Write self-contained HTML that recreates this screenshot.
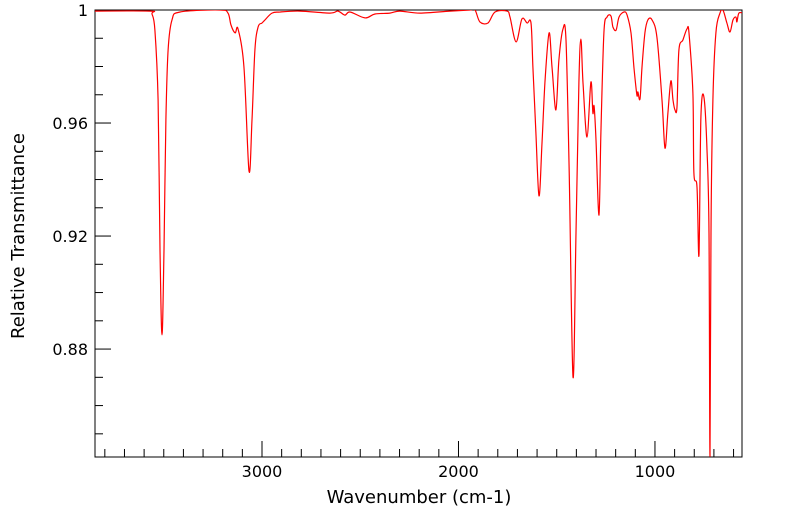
<!DOCTYPE html>
<html><head><meta charset="utf-8"><style>
html,body{margin:0;padding:0;background:#fff;width:799px;height:516px;overflow:hidden;}
svg{display:block;font-family:"DejaVu Sans","Liberation Sans",sans-serif;}
</style></head><body>
<svg id="chart" width="799" height="516" viewBox="0 0 799 516" xmlns="http://www.w3.org/2000/svg">
<defs><clipPath id="plotclip"><rect x="95" y="10" width="647" height="447"/></clipPath></defs>
<g id="axes"></g>
<g id="series" clip-path="url(#plotclip)"></g>
<text x="419" y="503" font-size="18" text-anchor="middle">Wavenumber (cm-1)</text>
<text x="24" y="236" font-size="18" text-anchor="middle" transform="rotate(-90 24 236)">Relative Transmittance</text>
</svg>
<script>
const wavenumbers = [3850,3570,3560,3545,3529,3519,3509,3499,3489,3478,3458,3417,3214,3173,3158,3137,3122,3092,3066,3051,3036,3020,3000,2985,2949,2908,2807,2654,2613,2578,2552,2476,2425,2349,2298,2196,2043,1942,1916,1891,1850,1814,1753,1738,1707,1677,1651,1631,1621,1606,1590,1575,1560,1539,1524,1504,1489,1468,1453,1437,1417,1402,1387,1377,1366,1346,1326,1316,1310,1300,1285,1275,1260,1244,1224,1214,1198,1183,1158,1142,1122,1107,1092,1087,1076,1066,1051,1036,1015,990,964,949,934,919,908,898,888,878,858,837,827,807,802,786,776,766,751,735,725,720,715,705,690,669,654,634,618,603,588,583,573,552];
const transmittance = [0.9996,0.9996,0.9986,0.9929,0.9681,0.9150,0.8850,0.9150,0.9611,0.9858,0.9965,0.9993,1.0,0.9989,0.9947,0.9919,0.9933,0.9800,0.9430,0.9611,0.9858,0.9940,0.9954,0.9965,0.9989,0.9993,0.9996,0.9989,0.9996,0.9982,0.9993,0.9972,0.9986,0.9989,0.9996,0.9989,0.9996,1.0,1.0,0.9958,0.9954,0.9993,0.9996,0.9975,0.9887,0.9968,0.9954,0.9954,0.9798,0.9565,0.9342,0.9529,0.9742,0.9919,0.9798,0.9646,0.9823,0.9933,0.9894,0.9444,0.8701,0.9211,0.9742,0.9897,0.9742,0.9550,0.9745,0.9635,0.9660,0.9540,0.9274,0.9565,0.9919,0.9975,0.9979,0.9940,0.9929,0.9975,0.9993,0.9982,0.9919,0.9798,0.9699,0.9710,0.9685,0.9798,0.9919,0.9965,0.9965,0.9904,0.9681,0.9511,0.9635,0.9749,0.9681,0.9646,0.9657,0.9858,0.9894,0.9933,0.9919,0.9706,0.9423,0.9373,0.9133,0.9621,0.9692,0.9504,0.9211,0.842,0.9211,0.9681,0.9919,0.9989,1.0,0.9954,0.9922,0.9965,0.9975,0.9958,0.9989,0.9989];
const xMajorTicks = [3000,2000,1000];
const yMajorTicks = [1,0.96,0.92,0.88];
const yTickLabels = ["1","0.96","0.92","0.88"];

const X0=95,X1=742,Y0=10,Y1=457;
const WN_LEFT=3850,WN_RIGHT=557,T_TOP=1.0,T_BOT=0.8418;
function xs(w){return X0+(WN_LEFT-w)/(WN_LEFT-WN_RIGHT)*(X1-X0);}
function ys(t){return Math.min(Y1,Y0+(T_TOP-t)/(T_TOP-T_BOT)*(Y1-Y0));}
const NS="http://www.w3.org/2000/svg";
const axes=document.getElementById('axes');
function mk(tag,attrs,parent){const e=document.createElementNS(NS,tag);for(const k in attrs)e.setAttribute(k,attrs[k]);parent.appendChild(e);return e;}

const frame=mk('rect',{x:X0,y:Y0,width:X1-X0,height:Y1-Y0,fill:'none',stroke:'#000','stroke-width':1},axes);



for(let w=600;w<=3800;w+=100){
  const x=xs(w);const major=xMajorTicks.includes(w);
  const t=mk('line',{x1:x,x2:x,y1:Y1,y2:Y1-(major?16:8),stroke:'#000','stroke-width':1},axes);
  
  
}
xMajorTicks.forEach(w=>{
  const l=mk('text',{x:xs(w),y:477,'font-size':16,'text-anchor':'middle'},axes);
  l.textContent=String(w);
  
  
});
for(let i=0;i<=15;i++){
  const v=1-i*0.01;const y=Y0+(1-v)/(T_TOP-T_BOT)*(Y1-Y0);if(y>Y1)break;
  const major=yMajorTicks.some(m=>Math.abs(m-v)<1e-6);
  const t=mk('line',{x1:X0,x2:X0+(major?16:8),y1:y,y2:y,stroke:'#000','stroke-width':1},axes);
  
  
}
yMajorTicks.forEach((v,i)=>{
  const l=mk('text',{x:88,y:ys(v)+6,'font-size':16,'text-anchor':'end'},axes);
  l.textContent=yTickLabels[i];
  
  
});
const P=wavenumbers.map((w,i)=>[xs(w),ys(transmittance[i])]);
let d='M'+P[0][0].toFixed(1)+','+P[0][1].toFixed(1);
for(let i=0;i<P.length-1;i++){
  const p0=P[Math.max(0,i-1)],p1=P[i],p2=P[i+1],p3=P[Math.min(P.length-1,i+2)];
  const c1=[p1[0]+(p2[0]-p0[0])/6,Math.min(Y1,p1[1]+(p2[1]-p0[1])/6)];
  const c2=[p2[0]-(p3[0]-p1[0])/6,Math.min(Y1,p2[1]-(p3[1]-p1[1])/6)];
  d+=' C'+c1[0].toFixed(1)+','+c1[1].toFixed(1)+' '+c2[0].toFixed(1)+','+c2[1].toFixed(1)+' '+p2[0].toFixed(1)+','+p2[1].toFixed(1);
}
const line=mk('path',{d:d,fill:'none',stroke:'#ff0000','stroke-width':1.2,'stroke-linejoin':'round'},document.getElementById('series'));


</script>
</body></html>
